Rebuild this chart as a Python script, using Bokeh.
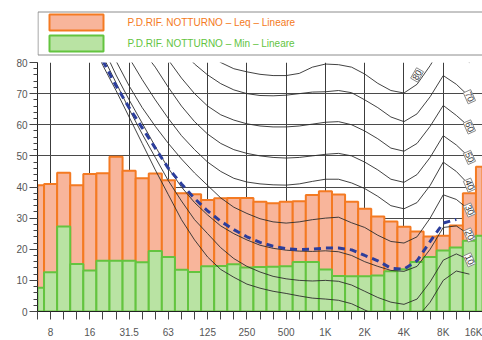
from bokeh.plotting import figure
from bokeh.models import Range1d, FixedTicker, SingleIntervalTicker, Label, ColumnDataSource
from bokeh.layouts import column
from bokeh.embed import file_html
from bokeh.resources import INLINE
from bokeh.core.properties import value

# 1/3 octave bands (Hz)
bands = ["6.3", "8", "10", "12.5", "16", "20", "25", "31.5", "40", "50", "63", "80",
         "100", "125", "160", "200", "250", "315", "400", "500", "630", "800",
         "1K", "1.25K", "1.6K", "2K", "2.5K", "3.15K", "4K", "5K", "6.3K", "8K",
         "10K", "12.5K", "16K"]
octave_labels = ["8", "16", "31.5", "63", "125", "250", "500", "1K", "2K", "4K", "8K", "16K"]

# Leq and Min spectra (dB, linear)
leq = [40.6, 41.0, 44.6, 40.6, 44.2, 44.4, 49.7, 45.2, 42.8, 44.3, 42.2, 38.0,
       37.7, 35.8, 36.4, 36.5, 36.5, 35.3, 34.8, 35.3, 35.4, 37.4,
       38.6, 37.6, 35.3, 33.0, 30.5, 28.9, 27.2, 25.7, 24.1, 24.3,
       27.6, 38.0, 46.5]
lmin = [7.6, 12.6, 27.3, 15.3, 13.2, 16.3, 16.3, 16.3, 15.8, 19.4, 17.5, 13.4,
        12.7, 14.5, 14.6, 15.2, 14.1, 14.3, 14.4, 14.5, 15.9, 15.9,
        13.5, 11.4, 11.3, 11.3, 11.6, 12.9, 13.6, 15.9, 17.5, 19.6,
        20.6, 22.7, 24.3]

legend_names = ["P.D.RIF. NOTTURNO \u2013 Leq \u2013 Lineare",
                "P.D.RIF. NOTTURNO \u2013 Min \u2013 Lineare"]

# isophonic contours, bands 16 Hz .. 12.5 kHz
contour_first_band = "16"
contour_last_band = "12.5K"
iso_0 = [88, 79, 71, 62.5, 54, 45.5, 37.5, 29.5, 23, 17.5, 13.5, 11, 8.8, 7.5, 6.5,
         5.8, 5, 4.3, 4, 3.6, 2.5, 0.5, -1.5, -3, -3.5, -2, 3, 10, 13, 12]
iso_10 = [90, 82, 73.5, 65, 57, 49.5, 42, 35.5, 29.5, 25, 20.5, 17, 14.5, 12.7, 11.3,
          10.5, 10, 9.8, 10, 9.7, 8.5, 6.5, 4.5, 3, 2.3, 4, 9.5, 16.5, 18.5, 16.6]
iso_20 = [95, 85, 76, 68, 60.5, 53, 46, 40, 35, 31, 27.5, 25, 23, 21.3, 20.3,
          19.7, 19.4, 19.3, 19.5, 19.2, 18, 16, 14.5, 13.2, 12.9, 14.5, 20, 27, 27.5, 24.6]
iso_30 = [98, 89, 80.5, 72.5, 65.5, 59.5, 54, 49, 44.5, 40.5, 36.5, 33.5, 31.5, 29.8, 28.8,
          28.4, 28.8, 29.5, 30, 30.3, 28.5, 27, 24.5, 22.5, 22, 24, 30, 37.5, 36, 32.6]
iso_40 = [108, 99, 90, 81.5, 74.5, 68, 62, 56.5, 52, 48, 45, 42.8, 41.6, 41, 40.7,
          40.6, 41, 41.8, 42.5, 42.5, 41.3, 39.5, 37, 34, 33, 35, 40.5, 48, 45, 40.6]
iso_50 = [114, 106, 98, 90, 84, 78.5, 72, 66, 61, 57, 54, 52, 50.8, 50, 49.5,
          49.3, 49.5, 50, 50.5, 50.8, 50, 48, 45.5, 42.5, 41.5, 44, 49.5, 56.5, 53.5, 49.5]
iso_60 = [120, 113, 106, 100, 95, 88, 80.8, 75, 70, 66, 63.2, 61.5, 60.3, 59.6, 59.3,
          59.3, 59.6, 60.2, 60.8, 61, 60, 58, 55.5, 52.5, 51.5, 54, 59.5, 66.2, 63, 59.3]
iso_70 = [126, 120, 114, 108, 102, 96, 90, 84, 79.5, 76, 73.2, 71.2, 70, 69.4, 69.3,
          69.5, 70, 70.5, 70.6, 71, 70.3, 68, 65.5, 62.5, 61, 63.5, 69, 75.8, 73, 69]
iso_80 = [133, 127, 121, 115, 109, 103, 97, 92, 87, 83, 80, 78, 77, 76.2, 75.8,
          75.8, 76.5, 78.5, 79.5, 79.3, 78.5, 76.3, 73.3, 71, 70.2, 73, 79, 86, 84, 80]
contour_levels = ["0", "10", "20", "30", "40", "50", "60", "70", "80"]

# dashed blue reference curve, bands 20 Hz .. 10 kHz
ref_first_band = "20"
ref_curve = [80.5, 72.5, 65.5, 59, 52.5, 46, 41, 36.3, 32.3, 29, 26.3, 24, 22.2, 21,
             20.2, 19.9, 20, 20.4, 20.4, 19.8, 18, 16.3, 13.9, 13.6, 16.3, 22.5, 28.4, 29.6]

# ---------------------------------------------------------------- styles
ORANGE_FILL = "#F8B59B"
ORANGE_LINE = "#F47A22"
GREEN_FILL = "#B9E3A3"
GREEN_LINE = "#63C43F"
FONT = "Liberation Sans"
TXT = "#555555"

idx = list(range(len(bands)))
octave_idx = [bands.index(b) for b in octave_labels]
c0 = bands.index(contour_first_band)
c1 = bands.index(contour_last_band)
contour_idx = list(range(c0, c1 + 1))
contours = [iso_0, iso_10, iso_20, iso_30, iso_40, iso_50, iso_60, iso_70, iso_80]
r0 = bands.index(ref_first_band)
ref_idx = list(range(r0, r0 + len(ref_curve)))

W = 482
LEFT = 37

# ---------------------------------------------------------------- legend strip
# frame spans page x LEFT..W, so x coordinates here are page pixels
lg = figure(width=W, height=58, x_range=Range1d(LEFT, W), y_range=Range1d(58, 0),
            output_backend="svg", toolbar_location=None,
            min_border_left=LEFT, min_border_right=0, min_border_top=0, min_border_bottom=0,
            x_axis_location=None, y_axis_location=None)
lg.grid.visible = False
lg.outline_line_color = None
lg.quad(left=37.5, right=490, top=11.5, bottom=54.5, fill_color=None,
        line_color="#8c8c8c", line_width=1)
lg.quad(left=[49, 49], right=[103, 103], top=[14, 35], bottom=[30, 51],
        fill_color=[ORANGE_FILL, GREEN_FILL], line_color=[ORANGE_LINE, GREEN_LINE], line_width=2)
lg.text(x=[127, 127], y=[21.5, 42.5], text=legend_names,
        text_color=[ORANGE_LINE, GREEN_LINE], text_font=value(FONT),
        text_font_size="10px", text_baseline="middle", text_align="left")

# ---------------------------------------------------------------- main chart
p = figure(width=W, height=282, x_range=Range1d(0, len(bands) - 1), y_range=Range1d(0, 80),
           output_backend="svg", toolbar_location=None,
           min_border_left=LEFT, min_border_right=0, min_border_top=4, min_border_bottom=28)
p.outline_line_color = None
p.background_fill_color = "white"

p.xgrid.ticker = FixedTicker(ticks=octave_idx)
p.xgrid.grid_line_color = "#3c3c3c"
p.xgrid.grid_line_width = 1
p.ygrid.ticker = FixedTicker(ticks=[10, 20, 30, 40, 50, 60, 70, 80])
p.ygrid.grid_line_color = "#4a4a4a"
p.ygrid.grid_line_width = 1

p.yaxis.ticker = SingleIntervalTicker(interval=10, num_minor_ticks=5)
p.yaxis.major_tick_out = 8
p.yaxis.major_tick_in = 0
p.yaxis.minor_tick_out = 4
p.yaxis.minor_tick_in = 0
p.yaxis.major_label_standoff = 2
p.xaxis.ticker = FixedTicker(ticks=idx)
p.xaxis.major_label_overrides = {i: (b if b in octave_labels else "") for i, b in zip(idx, bands)}
p.xaxis.major_tick_out = 8
p.xaxis.major_tick_in = 0
p.xaxis.major_label_standoff = 7
for ax in (p.xaxis, p.yaxis):
    ax.axis_line_color = "#222222"
    ax.major_tick_line_color = "#444444"
    ax.minor_tick_line_color = "#444444"
    ax.major_label_text_font = FONT
    ax.major_label_text_font_size = "10px"
    ax.major_label_text_color = TXT

src = ColumnDataSource(dict(i=idx, leq=leq, lmin=lmin))
p.vbar(x="i", top="leq", bottom=0, width=1, source=src,
       fill_color=ORANGE_FILL, line_color=ORANGE_LINE, line_width=2)
p.vbar(x="i", top="lmin", bottom=0, width=1, source=src,
       fill_color=GREEN_FILL, line_color=GREEN_LINE, line_width=2)

for vals in contours:
    p.line(x=contour_idx, y=vals, line_color="#2e2e2e", line_width=1, line_alpha=0.9)

p.line(x=ref_idx, y=ref_curve, line_color="#2C3E9C", line_width=3, line_dash="7 5")

# contour labels
for lev, vals in zip(contour_levels, contours):
    if lev == "0":
        continue
    if lev == "80":
        k = bands.index("5K")
        lx, ly, ang = k, vals[k - c0] + 3, 1.05
    else:
        lx, ly, ang = c1, vals[-1], -1.15
    p.add_layout(Label(x=lx, y=ly, text=lev, angle=ang, text_font=FONT, text_font_size="9px",
                       text_color="#333333", text_align="center", text_baseline="middle",
                       background_fill_color="white", border_line_color="#8a8a8a",
                       border_line_width=1, padding=1))

p.add_layout(Label(x=0, y=76.5, x_offset=-11, text="dB", text_font=FONT, text_font_size="10px",
                   text_color=TXT, text_align="right", text_baseline="middle"))

layout = column(lg, p, spacing=0)
open("out.html", "w").write(file_html(layout, INLINE))
